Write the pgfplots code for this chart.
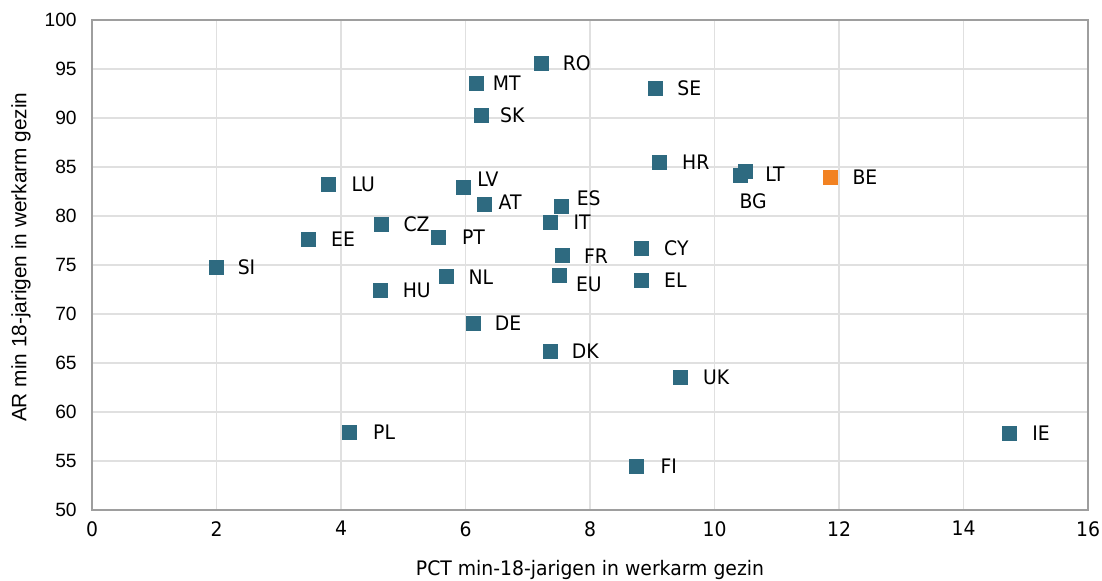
\documentclass[border=0pt]{standalone}
\usepackage{fontspec}
\setmainfont{DejaVu Sans}[FakeStretch=0.94]
\newfontfamily\arial{Liberation Sans}
\usepackage{pgfplots}
\pgfplotsset{compat=1.18}
\usepackage{pgfplotstable}

\definecolor{teal}{RGB}{46,106,128}
\definecolor{beorange}{RGB}{242,130,34}

% x y label dx dy  (label offset from marker, pt)
\pgfplotstableread{
x     y     label dx    dy
1.99  74.8  SI    23    0
3.48  77.6  EE    25.8  0
3.80  83.2  LU    26    0
4.65  79.2  CZ    26.3  0
4.63  72.4  HU    27.4  0
4.14  57.9  PL    25.8  0
5.56  77.8  PT    26.5  0
5.69  73.8  NL    26    0
5.96  82.9  LV    18.7  6.3
6.12  69.1  DE    26.3  0
6.17  93.5  MT    23    0
6.26  90.3  SK    23    0
6.30  81.2  AT    19.5  1.3
7.21  95.6  RO    27    0
7.36  79.4  IT    24    0
7.36  66.2  DK    26.3  0
7.54  81.0  ES    20.5  6
7.55  76.0  FR    25.5  -1
7.51  74.0  EU    22    -7
8.83  76.7  CY    26    0
8.82  73.4  EL    25.7  0
8.75  54.5  FI    24    0
9.05  93.0  SE    25.4  0
9.12  85.5  HR    27    0
9.45  63.5  UK    27    0
10.41 84.2  BG    9.8   -19.5
10.50 84.6  LT    22    -2.5
14.74 57.8  IE    23.6  0
}\others

\pgfplotstableread{
x     y     label dx    dy
11.86 84.0  BE    26    0
}\belgium

\begin{document}
\begin{tikzpicture}
\path[use as bounding box] (-69pt,-53.25pt) rectangle (757.5pt,382.5pt);
\begin{axis}[
    scale only axis,
    width=747pt, height=367.5pt,
    xmin=0, xmax=16, ymin=50, ymax=100,
    xtick={0,2,...,16},
    ytick={50,55,...,100},
    grid=major,
    major grid style={draw=black!12, line width=1.1pt},
    major tick length=0pt,
    axis line style={draw=black!38, line width=1.5pt},
    tick label style={font=\fontsize{15}{18}\selectfont},
    /pgf/number format/assume math mode=true,
    xticklabel style={yshift=-5pt},
    yticklabel style={xshift=-8pt, font=\arial\fontsize{14.4}{17}\selectfont},
    xlabel={PCT min-18-jarigen in werkarm gezin},
    ylabel={AR min 18-jarigen in werkarm gezin},
    xlabel style={font=\fontsize{15}{18}\selectfont,
        at={(axis description cs:0.5,-0.1224)}, anchor=center},
    ylabel style={font=\arial\fontsize{15.6}{18}\selectfont,
        at={(axis description cs:-0.0713,0.516)}, anchor=center},
    nodes near coords,
    point meta=explicit symbolic,
    visualization depends on={\thisrow{dx} \as \dx},
    visualization depends on={\thisrow{dy} \as \dy},
    every node near coord/.append style={anchor=center, xshift=\dx pt, yshift=\dy pt,
        font=\fontsize{15}{18}\selectfont, text=black},
]
\addplot[only marks, mark=square*, mark size=5.25pt, color=teal]
    table[x=x, y=y, meta=label] {\others};
\addplot[only marks, mark=square*, mark size=5.25pt, color=beorange]
    table[x=x, y=y, meta=label] {\belgium};
\end{axis}
\end{tikzpicture}
\end{document}
